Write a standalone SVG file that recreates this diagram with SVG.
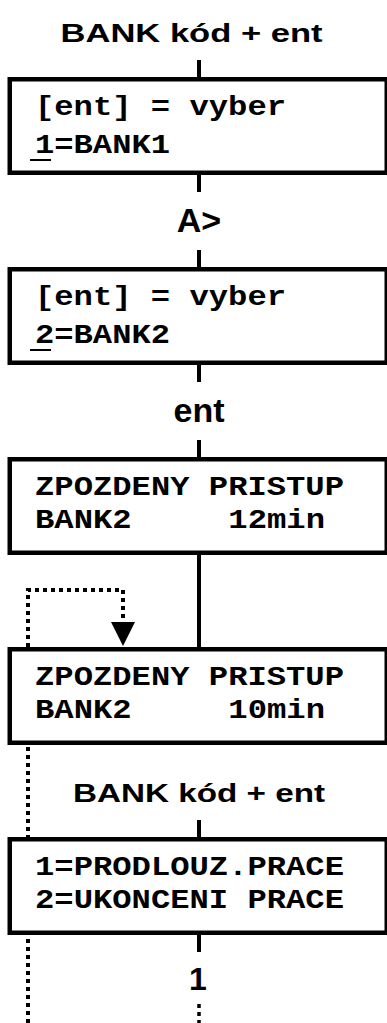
<svg xmlns="http://www.w3.org/2000/svg" width="387" height="1023" viewBox="0 0 387 1023">
<style>
.box{fill:#fff;stroke:#000;stroke-width:4.5}
.mono{font-family:"Liberation Mono","Courier New",monospace;font-weight:bold;font-size:28px;fill:#000}
.lbl{font-family:"Liberation Sans",Arial,sans-serif;font-weight:bold;fill:#000}
.line{stroke:#000;stroke-width:4;fill:none}
.dot{stroke:#000;stroke-width:4;fill:none;stroke-dasharray:4 4}
.ul{stroke:#000;stroke-width:2}
</style>
<g id="connectors">
<path class="dot" d="M28,1023 V590 H123 V622"/>
<polygon points="111,622 135,622 123,646" fill="#000"/>
<line class="line" x1="199" y1="60" x2="199" y2="77"/>
<line class="line" x1="199" y1="175" x2="199" y2="192"/>
<line class="line" x1="199" y1="250" x2="199" y2="267"/>
<line class="line" x1="199" y1="365" x2="199" y2="382"/>
<line class="line" x1="199" y1="440" x2="199" y2="457"/>
<line class="line" x1="199" y1="555" x2="199" y2="647"/>
<line class="line" x1="199" y1="820" x2="199" y2="837"/>
<line class="line" x1="199" y1="935" x2="199" y2="952"/>
<line class="dot" x1="199" y1="1004" x2="199" y2="1023" style="stroke-width:3.5"/>
</g>
<g id="label-bank1"><text class="lbl" x="60.5" y="41.5" font-size="26" textLength="262" lengthAdjust="spacingAndGlyphs">BANK kód + ent</text></g>
<g id="label-a"><text class="lbl" x="199" y="232" font-size="34" text-anchor="middle">A&gt;</text></g>
<g id="label-ent"><text class="lbl" x="199" y="422" font-size="34" text-anchor="middle">ent</text></g>
<g id="label-bank2"><text class="lbl" x="73" y="802" font-size="26" textLength="252" lengthAdjust="spacingAndGlyphs">BANK kód + ent</text></g>
<g id="label-1"><text class="lbl" x="198" y="990" font-size="32" text-anchor="middle">1</text></g>
<g id="box1">
<rect class="box" x="9.75" y="79.25" width="377" height="93.5"/>
<text class="mono" x="35" y="115" textLength="251" lengthAdjust="spacingAndGlyphs">[ent] = vyber</text>
<text class="mono" x="35" y="153" textLength="135" lengthAdjust="spacingAndGlyphs">1=BANK1</text>
<line class="ul" x1="30" y1="160" x2="51" y2="160"/>
</g>
<g id="box2">
<rect class="box" x="9.75" y="269.25" width="377" height="93.5"/>
<text class="mono" x="35" y="305" textLength="251" lengthAdjust="spacingAndGlyphs">[ent] = vyber</text>
<text class="mono" x="35" y="343" textLength="135" lengthAdjust="spacingAndGlyphs">2=BANK2</text>
<line class="ul" x1="30" y1="350" x2="51" y2="350"/>
</g>
<g id="box3">
<rect class="box" x="9.75" y="459.25" width="377" height="93.5"/>
<text class="mono" x="35" y="495" textLength="309" lengthAdjust="spacingAndGlyphs">ZPOZDENY PRISTUP</text>
<text class="mono" x="35" y="528" textLength="290" lengthAdjust="spacingAndGlyphs" xml:space="preserve">BANK2     12min</text>
</g>
<g id="box4">
<rect class="box" x="9.75" y="649.25" width="377" height="93.5"/>
<text class="mono" x="35" y="685" textLength="309" lengthAdjust="spacingAndGlyphs">ZPOZDENY PRISTUP</text>
<text class="mono" x="35" y="718" textLength="290" lengthAdjust="spacingAndGlyphs" xml:space="preserve">BANK2     10min</text>
</g>
<g id="box5">
<rect class="box" x="9.75" y="839.25" width="377" height="93.5"/>
<text class="mono" x="35" y="875" textLength="309" lengthAdjust="spacingAndGlyphs">1=PRODLOUZ.PRACE</text>
<text class="mono" x="35" y="908" textLength="309" lengthAdjust="spacingAndGlyphs" xml:space="preserve">2=UKONCENI PRACE</text>
</g>
</svg>
